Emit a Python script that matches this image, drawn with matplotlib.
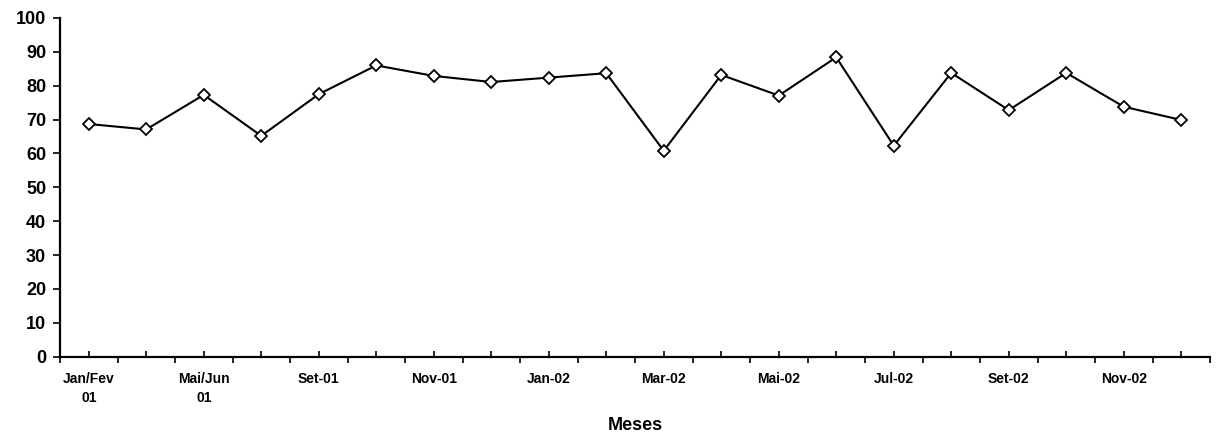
import matplotlib
matplotlib.use("Agg")
import matplotlib.pyplot as plt
import numpy as np

plt.rcParams['font.family'] = ['Liberation Sans', 'DejaVu Sans']

categories = ["Jan/Fev\n01", "Mar/Abr\n01", "Mai/Jun\n01", "Jul/Ago\n01", "Set-01", "Out-01",
              "Nov-01", "Dez-01", "Jan-02", "Fev-02", "Mar-02", "Abr-02", "Mai-02", "Jun-02",
              "Jul-02", "Ago-02", "Set-02", "Out-02", "Nov-02", "Dez-02"]
values = [68.7, 67.1, 77.3, 65.2, 77.5, 86.0, 82.9, 81.1, 82.4, 83.7,
          60.8, 83.2, 77.1, 88.4, 62.3, 83.8, 72.8, 83.8, 73.8, 69.9]
y_ticks = [0, 10, 20, 30, 40, 50, 60, 70, 80, 90, 100]
x_label = "Meses"

W, H = 1220, 436
fig = plt.figure(figsize=(W / 100, H / 100), dpi=100)
left, right, top, bottom = 60, 1210, 18, 356.7
ax = fig.add_axes([left / W, (H - bottom) / H, (right - left) / W, (bottom - top) / H])

x = np.arange(len(categories))
ax.plot(x, values, color='black', linewidth=1.5, marker='D', markersize=6.5,
        markerfacecolor='white', markeredgecolor='black', markeredgewidth=1.3, zorder=3)

ax.set_xlim(-0.5, len(categories) - 0.5)
ax.set_ylim(0, 100)

for s in ['top', 'right']:
    ax.spines[s].set_visible(False)
for s in ['left', 'bottom']:
    ax.spines[s].set_linewidth(1.6)
    ax.spines[s].set_color('black')

ax.set_yticks(y_ticks)
ax.set_yticklabels([str(v) for v in y_ticks], fontsize=13, fontweight='bold')
ax.tick_params(axis='y', direction='out', length=5, width=1.2, pad=5)

shown = [lab if i % 2 == 0 else "" for i, lab in enumerate(categories)]
ax.set_xticks(x)
ax.set_xticklabels(shown, fontsize=10, fontweight='bold')
ax.set_xticks(np.arange(-0.5, len(categories)), minor=True)
ax.tick_params(axis='x', which='major', direction='in', length=4, width=1.2, pad=11)
ax.tick_params(axis='x', which='minor', direction='out', length=4, width=1.2)
for t in ax.get_xticklabels():
    t.set_linespacing(1.5)

fig.text((left + 575) / W, (H - 425) / H, x_label, ha='center', va='center',
         fontsize=13, fontweight='bold')

fig.savefig("out.png", dpi=100)
